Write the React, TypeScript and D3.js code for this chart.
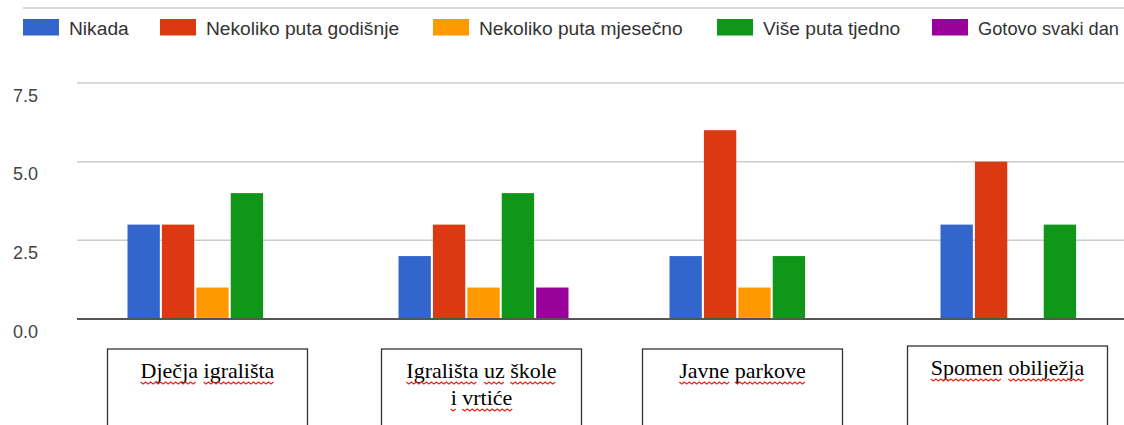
import React, { useEffect, useRef } from "react";
import * as d3 from "d3";

const categories = ["Dječja igrališta", "Igrališta uz škole i vrtiće", "Javne parkove", "Spomen obilježja"];
const categoryLines = [["Dječja igrališta"], ["Igrališta uz škole", "i vrtiće"], ["Javne parkove"], ["Spomen obilježja"]];
const seriesNames = ["Nikada", "Nekoliko puta godišnje", "Nekoliko puta mjesečno", "Više puta tjedno", "Gotovo svaki dan"];
const nikada = [3, 2, 2, 3];
const godisnje = [3, 3, 6, 5];
const mjesecno = [1, 1, 1, 0];
const tjedno = [4, 4, 2, 3];
const svakiDan = [0, 1, 0, 0];
const seriesValues = [nikada, godisnje, mjesecno, tjedno, svakiDan];
const colors = ["#3366cc", "#dc3912", "#ff9900", "#109618", "#990099"];
const yTicks = [0, 2.5, 5, 7.5];

const W = 1124;
const H = 425;
const boxOffsets = [-5, -2, -12, -18];
const boxTops = [349, 349, 349, 346];
const SERIF = "Liberation Serif, Times New Roman, serif";
const SANS = "Liberation Sans, Arial, sans-serif";
const SERIF_SIZE = 22;
const LEGEND_SIZE = 19.2;

export default function App() {
  const ref = useRef<SVGSVGElement | null>(null);

  useEffect(() => {
    const svg = d3.select(ref.current);
    svg.selectAll("*").remove();

    // top rule
    svg.append("line").attr("x1", 23).attr("x2", W).attr("y1", 8).attr("y2", 8)
      .attr("stroke", "#dadada").attr("stroke-width", 2);

    // legend
    const legendX = [23, 160, 433, 717, 932];
    const lg = svg.append("g");
    seriesNames.forEach((s, i) => {
      lg.append("rect").attr("x", legendX[i]).attr("y", 19).attr("width", 36).attr("height", 16.5)
        .attr("fill", colors[i]);
      const tx = legendX[i] + 46;
      const t = lg.append("text").attr("x", tx).attr("y", 35).text(s)
        .attr("font-family", SANS).attr("font-size", LEGEND_SIZE)
        .attr("fill", "#333");
      const avail = W - 5 - tx;
      const len = (t.node() as SVGTextElement).getComputedTextLength();
      if (len > avail) {
        t.attr("font-size", (LEGEND_SIZE * avail) / len);
      }
    });

    const y = d3.scaleLinear().domain([0, 7.5]).range([319, 83]);
    const x0 = d3.scaleBand<string>().domain(categories).range([77, 1161]).padding(0);
    const x1 = d3.scaleBand<string>().domain(seriesNames).range([0, 170]).paddingInner(0.06);

    // gridlines
    yTicks.forEach((t) => {
      if (t === 0) return;
      svg.append("line").attr("x1", 77).attr("x2", W).attr("y1", y(t)).attr("y2", y(t))
        .attr("stroke", "#cccccc").attr("stroke-width", 1.5);
    });
    yTicks.forEach((t) => {
      svg.append("text").attr("x", 38).attr("y", y(t) + 18.5).attr("text-anchor", "end")
        .attr("font-family", SANS).attr("font-size", 18)
        .attr("fill", "#444").text(d3.format(".1f")(t));
    });

    // bars
    categories.forEach((c, ci) => {
      const gx = x0(c)! + (x0.bandwidth() - 170) / 2;
      seriesNames.forEach((s, si) => {
        const v = seriesValues[si][ci];
        if (v <= 0) return;
        svg.append("rect").attr("x", gx + x1(s)!).attr("y", y(v)).attr("width", x1.bandwidth())
          .attr("height", y(0) - y(v)).attr("fill", colors[si]);
      });
    });

    // baseline
    svg.append("line").attr("x1", 77).attr("x2", W).attr("y1", y(0)).attr("y2", y(0))
      .attr("stroke", "#555").attr("stroke-width", 2);

    const measure = (g: any, s: string) => {
      const tmp = g.append("text").attr("font-family", SERIF).attr("font-size", SERIF_SIZE).text(s);
      const w = (tmp.node() as SVGTextElement).getComputedTextLength();
      tmp.remove();
      return w;
    };

    // category boxes
    categories.forEach((c, ci) => {
      const cx = x0(c)! + x0.bandwidth() / 2 + boxOffsets[ci];
      const g = svg.append("g");
      g.append("rect").attr("x", cx - 100).attr("y", boxTops[ci]).attr("width", 200).attr("height", 100)
        .attr("fill", "#fff").attr("stroke", "#333").attr("stroke-width", 1.3);
      const space = measure(g, "a a") - measure(g, "aa");
      categoryLines[ci].forEach((line, li) => {
        const by = boxTops[ci] + 29 + li * 27;
        const t = g.append("text").attr("x", cx).attr("y", by).attr("text-anchor", "middle")
          .attr("font-family", SERIF).attr("font-size", SERIF_SIZE)
          .attr("fill", "#000").text(line);
        const total = (t.node() as SVGTextElement).getComputedTextLength();
        let start = cx - total / 2;
        line.split(" ").forEach((w) => {
          const ww = measure(g, w);
          const pts: [number, number][] = [];
          for (let px = 0; px <= ww; px += 2.5) {
            pts.push([start + px, by + 4 + (Math.round(px / 2.5) % 2 === 0 ? 0 : 2)]);
          }
          g.append("path").attr("d", d3.line()(pts)!).attr("fill", "none")
            .attr("stroke", "#e8261c").attr("stroke-width", 1.2);
          start += ww + space;
        });
      });
    });
  }, []);

  return (
    <svg ref={ref} width={W} height={H}
      style={{ position: "absolute", left: 0, top: 0, background: "#fff" }} />
  );
}
